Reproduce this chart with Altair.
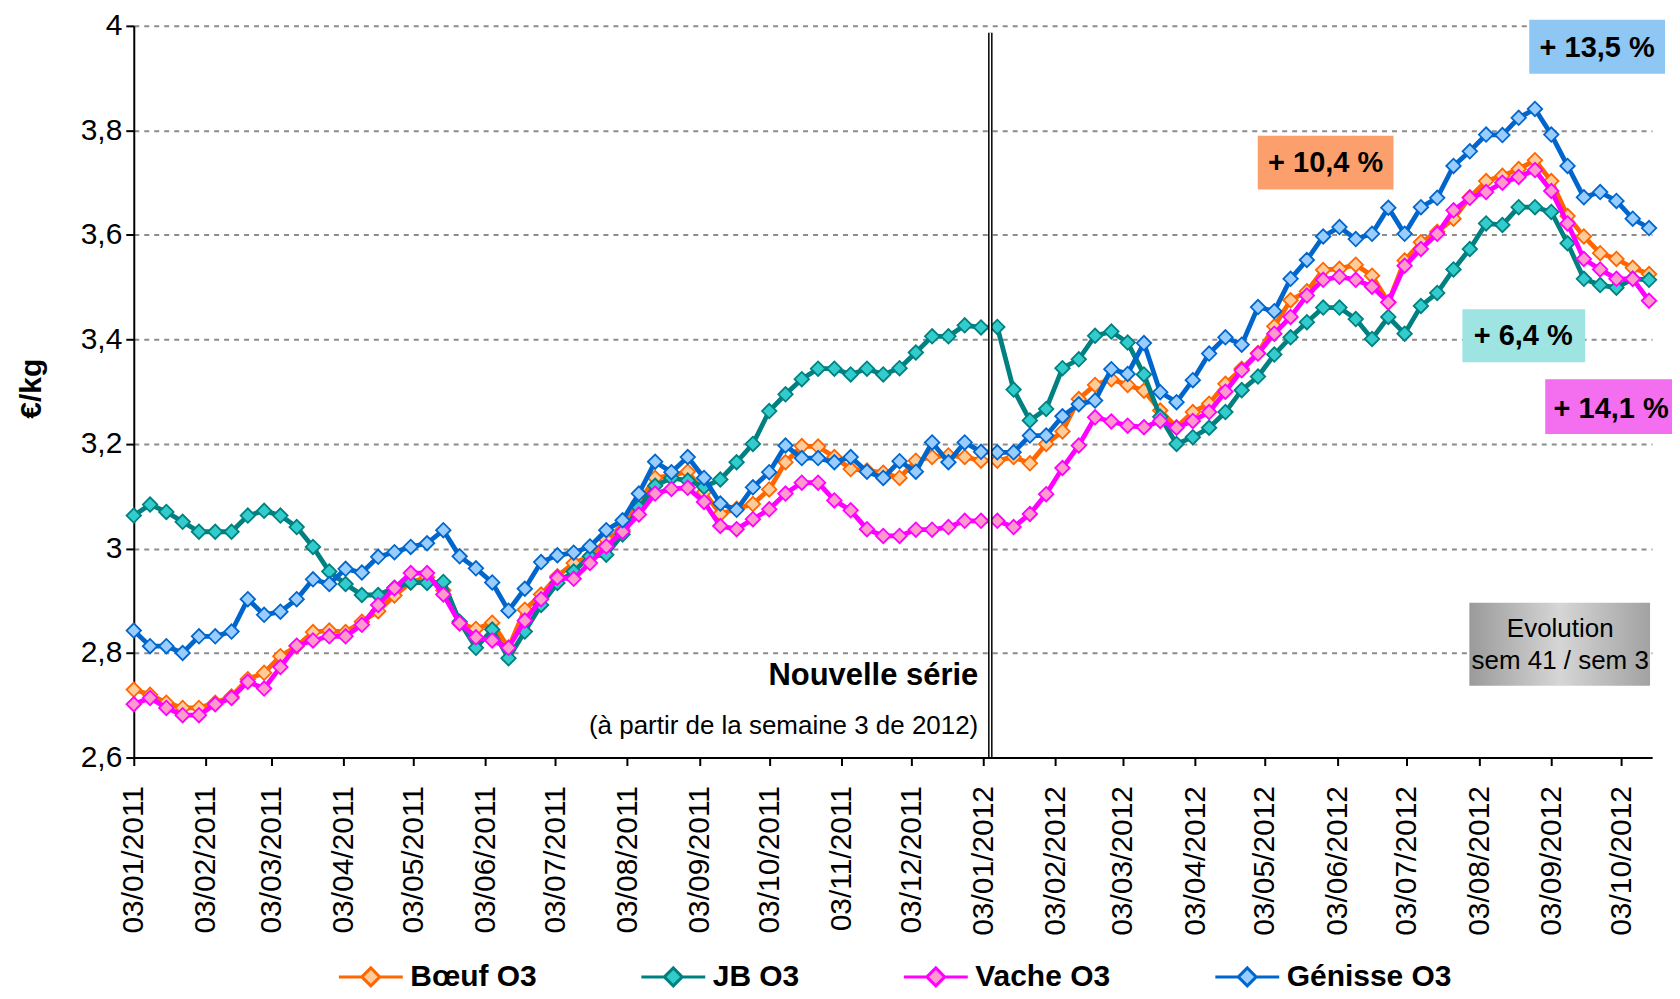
import altair as alt
import pandas as pd

# ---------------- data ----------------
SERIES = ["Bœuf O3", "JB O3", "Vache O3", "Génisse O3"]
LINE_COLORS = ["#FF6600", "#008080", "#FF00FF", "#0066CC"]
FILL_COLORS = ["#FFCC99", "#33CCCC", "#FF99CC", "#99CCFF"]

FIRST_WEEK = "2011-01-03"
N_WEEKS = 94

BOEUF = [2.73, 2.72, 2.705, 2.695, 2.695, 2.705, 2.717, 2.75, 2.762, 2.794,
         2.813, 2.84, 2.843, 2.84, 2.86, 2.88, 2.91, 2.935, 2.945, 2.92,
         2.857, 2.846, 2.858, 2.81, 2.883, 2.912, 2.947, 2.972, 2.985, 3.017,
         3.036, 3.088, 3.135, 3.14, 3.147, 3.108, 3.066, 3.076, 3.085, 3.113,
         3.165, 3.196, 3.195, 3.175, 3.152, 3.149, 3.145, 3.135, 3.168, 3.175,
         3.178, 3.175, 3.168, 3.168, 3.175, 3.163, 3.20, 3.224, 3.286, 3.313,
         3.324, 3.313, 3.302, 3.264, 3.232, 3.261, 3.277, 3.315, 3.344, 3.374,
         3.425, 3.475, 3.492, 3.533, 3.535, 3.543, 3.522, 3.471, 3.551, 3.586,
         3.606, 3.631, 3.672, 3.703, 3.713, 3.726, 3.743, 3.703, 3.636, 3.597,
         3.565, 3.554, 3.537, 3.525]

JB = [3.063, 3.084, 3.07, 3.051, 3.032, 3.032, 3.032, 3.063, 3.072, 3.063,
      3.041, 3.003, 2.956, 2.932, 2.911, 2.911, 2.925, 2.935, 2.934, 2.936,
      2.86, 2.81, 2.845, 2.79, 2.841, 2.892, 2.934, 2.956, 2.985, 2.988,
      3.027, 3.078, 3.12, 3.135, 3.13, 3.118, 3.132, 3.165, 3.20, 3.263,
      3.295, 3.324, 3.344, 3.344, 3.333, 3.344, 3.333, 3.345, 3.375, 3.406,
      3.406, 3.427, 3.423, 3.424, 3.304, 3.245, 3.267, 3.345, 3.362, 3.407,
      3.415, 3.394, 3.333, 3.252, 3.20, 3.213, 3.231, 3.261, 3.303, 3.329,
      3.371, 3.404, 3.433, 3.461, 3.461, 3.439, 3.401, 3.443, 3.411, 3.464,
      3.489, 3.534, 3.573, 3.622, 3.619, 3.653, 3.653, 3.644, 3.584, 3.516,
      3.504, 3.499, 3.516, 3.514]

VACHE = [2.702, 2.714, 2.695, 2.681, 2.681, 2.702, 2.714, 2.745, 2.732, 2.773,
         2.814, 2.824, 2.832, 2.832, 2.854, 2.892, 2.924, 2.953, 2.953, 2.912,
         2.857, 2.83, 2.824, 2.81, 2.862, 2.903, 2.944, 2.942, 2.972, 3.004,
         3.032, 3.065, 3.105, 3.114, 3.116, 3.089, 3.043, 3.037, 3.056, 3.075,
         3.105, 3.126, 3.126, 3.092, 3.073, 3.037, 3.024, 3.024, 3.036, 3.036,
         3.041, 3.053, 3.053, 3.053, 3.041, 3.066, 3.104, 3.154, 3.197, 3.251,
         3.243, 3.235, 3.232, 3.244, 3.231, 3.244, 3.261, 3.30, 3.341, 3.373,
         3.411, 3.443, 3.484, 3.514, 3.52, 3.514, 3.501, 3.471, 3.541, 3.573,
         3.602, 3.647, 3.671, 3.682, 3.70, 3.711, 3.724, 3.684, 3.622, 3.554,
         3.534, 3.516, 3.516, 3.474]

GENISSE = [2.843, 2.813, 2.813, 2.80, 2.832, 2.832, 2.841, 2.903, 2.873, 2.879,
           2.903, 2.941, 2.932, 2.961, 2.954, 2.984, 2.993, 3.003, 3.01, 3.035,
           2.985, 2.962, 2.935, 2.881, 2.923, 2.974, 2.987, 2.992, 3.004, 3.035,
           3.054, 3.105, 3.166, 3.146, 3.175, 3.135, 3.086, 3.074, 3.117, 3.146,
           3.197, 3.173, 3.173, 3.165, 3.175, 3.147, 3.135, 3.167, 3.147, 3.203,
           3.165, 3.203, 3.185, 3.184, 3.184, 3.216, 3.216, 3.253, 3.276, 3.283,
           3.343, 3.334, 3.393, 3.299, 3.280, 3.322, 3.373, 3.404, 3.39, 3.462,
           3.454, 3.516, 3.552, 3.597, 3.615, 3.592, 3.602, 3.652, 3.602, 3.653,
           3.671, 3.732, 3.760, 3.792, 3.791, 3.824, 3.841, 3.792, 3.732, 3.672,
           3.682, 3.665, 3.631, 3.613]

Y_TICKS = [2.6, 2.8, 3.0, 3.2, 3.4, 3.6, 3.8, 4.0]
X_TICK_MONTHS = [(2011, m) for m in range(1, 13)] + [(2012, m) for m in range(1, 11)]
NEW_SERIES_DATE = "2012-01-06T00:00:00"

BOX_LABELS = ["+ 13,5 %", "+ 10,4 %", "+ 6,4 %", "+ 14,1 %"]
BOX_COLORS = ["#8EC6F4", "#FBA06C", "#9DE4E2", "#F46EF0"]
EVOL_LINES = ["Evolution", "sem 41 / sem 3"]
NEW_SERIES_TITLE = "Nouvelle série"
NEW_SERIES_NOTE = "(à partir de la semaine 3 de 2012)"

# ---------------- build table ----------------
dates = pd.date_range(FIRST_WEEK, periods=N_WEEKS, freq="7D").strftime("%Y-%m-%dT00:00:00").tolist()
values = {"Bœuf O3": BOEUF, "JB O3": JB, "Vache O3": VACHE, "Génisse O3": GENISSE}
rows = []
for s in SERIES:
    for d, v in zip(dates, values[s]):
        rows.append({"date": d, "serie": s, "value": v})
df = pd.DataFrame(rows)

FONT = "Liberation Sans"

x_scale = alt.Scale(domain=[alt.DateTime(year=2011, month=1, date=3),
                            alt.DateTime(year=2012, month=10, date=16, hours=7)], nice=False)
x_axis = alt.Axis(values=[alt.DateTime(year=y, month=m, date=3) for y, m in X_TICK_MONTHS],
                  format="%d/%m/%Y", labelAngle=270, labelFont=FONT, labelFontSize=30,
                  labelColor="black", labelPadding=20, labelOverlap=False, labelFlush=False,
                  tickSize=8, tickWidth=2, tickColor="black", domainColor="black",
                  domainWidth=2, grid=False, title=None, zindex=1)
y_scale = alt.Scale(domain=[2.6, 4.0], nice=False, zero=False)
y_axis = alt.Axis(values=Y_TICKS,
                  labelExpr="replace(toString(round(datum.value*10)/10), '.', ',')",
                  labelFont=FONT, labelFontSize=30, labelColor="black", labelPadding=4,
                  tickSize=8, tickWidth=2, tickColor="black", domainColor="black",
                  domainWidth=2, grid=True, gridDash=[5, 5], gridColor="#8c8c8c",
                  gridWidth=2, title="€/kg", titleFont=FONT, titleFontSize=30,
                  titleFontWeight="bold", titleColor="black", titleAngle=270,
                  titleX=-102, titleY=363, titleAlign="center", titleBaseline="middle")

stroke_scale = alt.Scale(domain=SERIES, range=LINE_COLORS)
fill_scale = alt.Scale(domain=SERIES, range=FILL_COLORS)

SYMBOL = "M-1,0L-0.28,0M0.28,0L1,0M-0.28,0L0,-0.28L0.28,0L0,0.28Z"


def legend():
    return alt.Legend(title=None, orient="none", legendX=204, legendY=919,
                      direction="horizontal", symbolType=SYMBOL, symbolSize=4096,
                      symbolStrokeWidth=3, labelFont=FONT, labelFontSize=30,
                      labelFontWeight="bold", labelColor="black", labelOffset=6,
                      columnPadding=98, padding=0, labelLimit=400)


base = alt.Chart(df)
layers = []
for s in SERIES:
    sub = base.transform_filter(alt.datum.serie == s)
    line = sub.mark_line(strokeWidth=4.8).encode(
        x=alt.X("date:T", scale=x_scale, axis=x_axis),
        y=alt.Y("value:Q", scale=y_scale, axis=y_axis),
        stroke=alt.Stroke("serie:N", scale=stroke_scale, legend=legend()),
    )
    pts = sub.mark_point(shape="diamond", filled=True, size=210, strokeWidth=1.8, opacity=1).encode(
        x=alt.X("date:T", scale=x_scale, axis=x_axis),
        y=alt.Y("value:Q", scale=y_scale, axis=y_axis),
        stroke=alt.Stroke("serie:N", scale=stroke_scale, legend=legend()),
        fill=alt.Fill("serie:N", scale=fill_scale, legend=legend()),
    )
    layers += [line, pts]

# vertical double line "Nouvelle série"
sep_data = alt.Data(values=[{"d": NEW_SERIES_DATE}])
sep_black = alt.Chart(sep_data).mark_rule(color="black", strokeWidth=4.5).encode(
    x=alt.X("d:T", scale=x_scale, axis=x_axis), y=alt.value(7), y2=alt.value(733))
sep_white = alt.Chart(sep_data).mark_rule(color="white", strokeWidth=1.5).encode(
    x=alt.X("d:T", scale=x_scale, axis=x_axis), y=alt.value(7), y2=alt.value(733))
layers += [sep_black, sep_white]

ns_title = alt.Chart(alt.Data(values=[{"t": NEW_SERIES_TITLE}])).mark_text(
    align="right", baseline="middle", font=FONT, fontSize=31, fontWeight="bold", color="black"
).encode(x=alt.value(846), y=alt.value(651), text="t:N")
ns_note = alt.Chart(alt.Data(values=[{"t": NEW_SERIES_NOTE}])).mark_text(
    align="right", baseline="middle", font=FONT, fontSize=26, color="black"
).encode(x=alt.value(846), y=alt.value(701), text="t:N")
layers += [ns_title, ns_note]

# percentage boxes: (x, x2, y, y2, text x, text y)
BOX_POS = [(1398, 1534, -6, 48, 1466, 22),
           (1126, 1262, 110, 164, 1194, 137),
           (1331, 1454, 284, 337, 1392, 311),
           (1414, 1544, 354, 409, 1480, 384)]
for lab, col, (bx, bx2, by, by2, tx, ty) in zip(BOX_LABELS, BOX_COLORS, BOX_POS):
    d = alt.Data(values=[{"t": lab}])
    layers.append(alt.Chart(d).mark_rect(fill=col).encode(
        x=alt.value(bx), x2=alt.value(bx2), y=alt.value(by), y2=alt.value(by2)))
    layers.append(alt.Chart(d).mark_text(
        align="center", baseline="middle", font=FONT, fontSize=29, fontWeight="bold", color="black"
    ).encode(x=alt.value(tx), y=alt.value(ty), text="t:N"))

# evolution box
evo_d = alt.Data(values=[{"t": EVOL_LINES[0]}])
grad = alt.Gradient(gradient="linear", x1=0, x2=1, y1=0, y2=0,
                    stops=[alt.GradientStop(color="#9a9a9a", offset=0),
                           alt.GradientStop(color="#d6d6d6", offset=0.5),
                           alt.GradientStop(color="#a2a2a2", offset=1)])
layers.append(alt.Chart(evo_d).mark_rect(fill=grad).encode(
    x=alt.value(1338), x2=alt.value(1519), y=alt.value(578), y2=alt.value(661)))
for line_txt, ty in zip(EVOL_LINES, [604, 636]):
    layers.append(alt.Chart(alt.Data(values=[{"t": line_txt}])).mark_text(
        align="center", baseline="middle", font=FONT, fontSize=26, color="black"
    ).encode(x=alt.value(1429), y=alt.value(ty), text="t:N"))

chart = alt.layer(*layers).properties(
    width=1521, height=733,
    autosize=alt.AutoSizeParams(type="none"),
    padding={"left": 126, "top": 17, "right": 20, "bottom": 233},
    background="white",
).configure_view(stroke=None)

chart.save("out.html", embed_options={"renderer": "svg", "actions": False})
